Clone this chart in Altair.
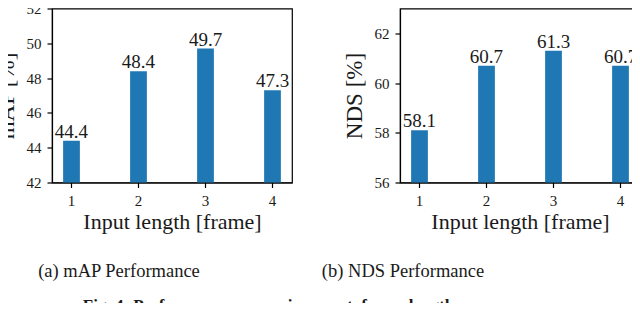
import altair as alt
import pandas as pd

frames = [1, 2, 3, 4]
map_values = [44.4, 48.4, 49.7, 47.3]
nds_values = [58.1, 60.7, 61.3, 60.7]
map_ticks = [42, 44, 46, 48, 50, 52]
nds_ticks = [56, 58, 60, 62]
map_domain = [42, 52]
nds_domain = [56, 63]

FONT = "Times New Roman, Liberation Serif, serif"
BAR = "#1f77b4"
INK = "#1a1a1a"


def panel(values, label, domain, ticks, caption, cap_dx):
    df = pd.DataFrame({"frame": frames, "value": values})
    base = alt.Chart(df)
    x = alt.X(
        "frame:O",
        title="Input length [frame]",
        scale=alt.Scale(paddingInner=0.75, paddingOuter=0.166),
        axis=alt.Axis(labelAngle=0, titlePadding=3, titleFontSize=22),
    )
    y = alt.Y(
        "value:Q",
        title=label,
        scale=alt.Scale(domain=domain, nice=False, zero=False),
        axis=alt.Axis(values=ticks, titlePadding=8),
    )
    bars = base.mark_bar(color=BAR, clip=True).encode(x=x, y=y)
    text = base.mark_text(
        dy=-3, baseline="alphabetic", fontSize=19, font=FONT, color=INK
    ).encode(x=x, y=y, text=alt.Text("value:Q", format=".1f"))
    return (bars + text).properties(
        width=240,
        height=174,
        title=alt.TitleParams(
            caption,
            orient="bottom",
            anchor="middle",
            dx=cap_dx,
            offset=29,
            font=FONT,
            fontSize=18.5,
            fontWeight="normal",
            color=INK,
        ),
    )


left = panel(map_values, "mAP [%]", map_domain, map_ticks, "(a) mAP Performance", -53)
right = panel(nds_values, "NDS [%]", nds_domain, nds_ticks, "(b) NDS Performance", -117)

chart = (
    alt.hconcat(left, right, spacing=108, bounds="flush")
    .resolve_scale(y="independent")
    .properties(
        title=alt.TitleParams(
            "Fig. 4:  Performance comparison w.r.t. frame length",
            orient="bottom",
            anchor="middle",
            dx=-49,
            offset=17,
            font=FONT,
            fontSize=17,
            fontWeight="bold",
            color=INK,
        ),
        padding={"left": -14, "top": -7.5, "right": -9, "bottom": -12},
    )
    .configure_view(stroke="black", strokeWidth=1.2)
    .configure_axis(
        grid=False,
        domainColor="black",
        domainWidth=1.2,
        tickColor="black",
        tickSize=5,
        tickWidth=1.2,
        labelFont=FONT,
        labelFontSize=15,
        labelColor=INK,
        labelPadding=6,
        titleFont=FONT,
        titleFontSize=23,
        titleFontWeight="normal",
        titleColor=INK,
    )
)

chart.save("out.html", embed_options={"renderer": "svg", "actions": False})
